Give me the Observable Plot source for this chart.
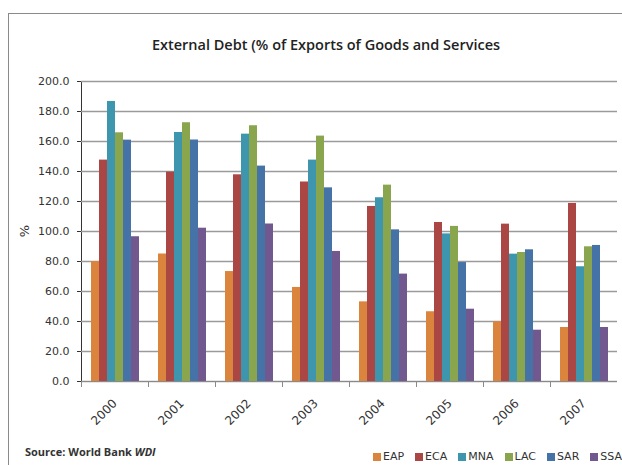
<!DOCTYPE html>
<html>
<head>
<meta charset="utf-8">
<script src="https://cdn.jsdelivr.net/npm/d3@7"></script>
<script src="https://cdn.jsdelivr.net/npm/@observablehq/plot@0.6"></script>
<style>
  html, body { margin: 0; padding: 0; background: #fff; }
  #page { position: relative; width: 622px; height: 465px; overflow: hidden; font-family: "DejaVu Sans", sans-serif; }
  #box { position: absolute; left: 8px; top: 13px; width: 700px; height: 600px; border-left: 1px solid #8a8a8a; border-top: 1px solid #8a8a8a; }
  #title { position: absolute; left: 0; width: 652px; top: 35px; text-align: center; font-family: "Open Sans", sans-serif; font-weight: 600; font-size: 14.5px; color: #222; }
  #chart { position: absolute; left: 0; top: 60px; }
  #source { position: absolute; left: 25px; top: 444px; font-family: "Open Sans", sans-serif; font-weight: 700; font-size: 11px; color: #333; }
  #legend { position: absolute; left: 373px; top: 450px; display: flex; font-size: 11px; color: #333; white-space: nowrap; }
  #legend .item { display: flex; align-items: center; margin-right: 11px; }
  #legend .sw { width: 8px; height: 8px; margin-right: 2px; }
  #chart g[aria-label="fx-axis tick label"] { font-size: 12px; }
  #chart g[aria-label="y-axis tick label"] { font-size: 11px; }
</style>
</head>
<body>
<div id="page">
  <div id="box"></div>
  <div id="title">External Debt (% of Exports of Goods and Services</div>
  <div id="chart"></div>
  <div id="source">Source: World Bank <i>WDI</i></div>
  <div id="legend"></div>
</div>
<script>
const years = ["2000", "2001", "2002", "2003", "2004", "2005", "2006", "2007"];
const regions = ["EAP", "ECA", "MNA", "LAC", "SAR", "SSA"];
const colors = ["#DB843D", "#AA4643", "#3D96AE", "#89A54E", "#4572A7", "#71588F"];
const yTicks = [0, 20, 40, 60, 80, 100, 120, 140, 160, 180, 200];

const EAP = [80.0, 85.0, 73.3, 62.7, 53.1, 46.5, 39.8, 36.0];
const ECA = [147.6, 139.6, 137.8, 133.0, 116.7, 106.0, 104.9, 118.7];
const MNA = [186.7, 166.0, 164.9, 147.6, 122.5, 98.4, 84.9, 76.5];
const LAC = [165.8, 172.5, 170.5, 163.6, 130.9, 103.4, 86.0, 89.8];
const SAR = [160.9, 161.0, 143.6, 129.1, 101.1, 79.3, 87.8, 90.7];
const SSA = [96.5, 102.2, 105.0, 86.7, 71.6, 48.2, 34.2, 36.0];

const series = {EAP, ECA, MNA, LAC, SAR, SSA};
const table = [];
years.forEach((year, i) => regions.forEach(region => table.push({year, region, value: series[region][i]})));

const chart = Plot.plot({
  width: 622,
  height: 372,
  marginTop: 21,
  marginLeft: 79,
  marginRight: 3,
  marginBottom: 51,
  style: {fontFamily: "DejaVu Sans, sans-serif", fontSize: "11px", color: "#333", background: "transparent"},
  fx: {domain: years, padding: 0, label: null, tickRotate: -45, tickSize: 0, tickPadding: 20},
  x: {domain: regions, paddingInner: 0, paddingOuter: 0.75, axis: null},
  y: {domain: [0, 200], ticks: yTicks, tickFormat: d => d.toFixed(1), tickSize: 4, tickPadding: 8, label: null, line: true},
  color: {domain: regions, range: colors},
  marks: [
    Plot.gridY(yTicks, {stroke: "#9a9a9a", strokeOpacity: 1, strokeWidth: 1.6}),
    Plot.barY(table, {fx: "year", x: "region", y: "value", fill: "region"}),
    Plot.ruleY([0], {stroke: "#8a8a8a", strokeWidth: 1.2}),
    Plot.frame({anchor: "left", stroke: "#8a8a8a", insetTop: 300, insetBottom: -5})
  ]
});
document.getElementById("chart").appendChild(chart);

// y axis label "%"
const svg = d3.select(chart);
svg.append("text")
  .attr("transform", `translate(24,${(21 + 321) / 2}) rotate(-90)`)
  .attr("text-anchor", "middle")
  .attr("dy", "0.35em")
  .attr("font-size", "13px")
  .attr("fill", "#333")
  .text("%");

const legend = d3.select("#legend");
regions.forEach((r, i) => {
  const item = legend.append("div").attr("class", "item");
  item.append("div").attr("class", "sw").style("background", colors[i]);
  item.append("span").text(r);
});
</script>
</body>
</html>
